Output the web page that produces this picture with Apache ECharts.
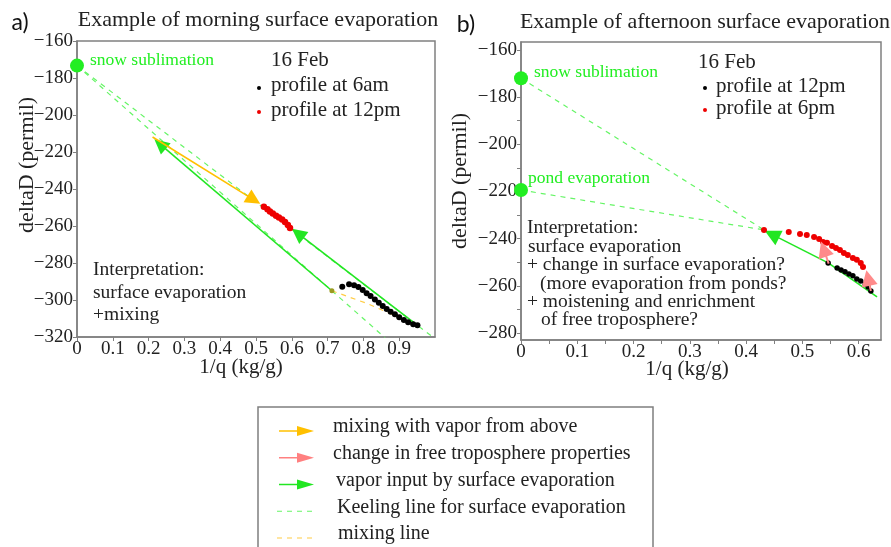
<!DOCTYPE html>
<html>
<head>
<meta charset="utf-8">
<script src="https://cdn.jsdelivr.net/npm/echarts@6/dist/echarts.min.js"></script>
<style>
  html, body { margin: 0; padding: 0; background: #fff; }
  #chart { width: 891px; height: 547px; }
</style>
</head>
<body>
<div id="chart"></div>
<script>
// ---------- Panel (a): morning surface evaporation, 16 Feb ----------
const aProfile6am = [
  [0.741, -292.8], [0.760, -291.5], [0.774, -292.0], [0.786, -293.0], [0.798, -294.6],
  [0.809, -296.4], [0.820, -297.9], [0.832, -299.7], [0.843, -301.5], [0.854, -303.3],
  [0.865, -304.9], [0.876, -306.3], [0.888, -307.7], [0.900, -309.3], [0.913, -310.8],
  [0.925, -312.0], [0.939, -313.1], [0.951, -313.7]
];
const aProfile12pm = [
  [0.522, -249.6], [0.532, -251.0], [0.539, -252.2], [0.547, -253.3], [0.556, -254.4],
  [0.564, -255.4], [0.573, -256.5], [0.581, -257.8], [0.589, -259.5], [0.595, -261.1]
];
const aSources = [{ name: 'snow sublimation', value: [0, -173.3] }];
const aMixStart = [[0.712, -295.0]];
const aKeelingLines = [
  [[0, -173.3], [1.0, -320.9]],
  [[0, -173.3], [0.861, -320.5]]
];
const aMixingLine = [[0.712, -295.0], [0.809, -301.8], [0.951, -313.7]];
const aGreenArrows = [
  [[0.712, -295.0], [0.232, -215.7]],
  [[0.951, -313.7], [0.617, -264.0]]
];
const aYellowArrows = [[[0.211, -211.9], [0.494, -245.9]]];
const aXLabels = [0, 0.1, 0.2, 0.3, 0.4, 0.5, 0.6, 0.7, 0.8, 0.9];
const aYLabels = [-320, -300, -280, -260, -240, -220, -200, -180, -160];

// ---------- Panel (b): afternoon surface evaporation, 16 Feb ----------
const bProfile12pm = [
  [0.546, -250.3], [0.562, -252.5], [0.569, -253.3], [0.576, -254.1], [0.583, -255.0],
  [0.590, -255.8], [0.597, -257.1], [0.604, -258.0], [0.612, -259.2], [0.617, -260.5],
  [0.622, -262.2]
];
const bProfile6pm = [
  [0.432, -236.3], [0.476, -237.2], [0.496, -238.0], [0.508, -238.5], [0.521, -239.3],
  [0.530, -240.2], [0.537, -241.4], [0.544, -241.8], [0.553, -243.1], [0.560, -244.0],
  [0.567, -244.8], [0.574, -246.1], [0.581, -246.9], [0.590, -248.2], [0.597, -249.0],
  [0.604, -250.3], [0.608, -252.0]
];
const bSources = [
  { name: 'snow sublimation', value: [0, -172.0] },
  { name: 'pond evaporation', value: [0, -219.4] }
];
const bKeelingLines = [
  [[0, -172.0], [0.432, -236.3]],
  [[0, -219.4], [0.432, -236.3]]
];
const bGreenPath = [[0.633, -264.7], [0.546, -250.3]];
const bGreenArrows = [[[0.546, -250.3], [0.446, -238.2]]];
const bPinkArrows = [
  [[0.547, -250.6], [0.538, -244.4]],
  [[0.622, -262.2], [0.617, -256.7]]
];
const bXLabels = [0, 0.1, 0.2, 0.3, 0.4, 0.5, 0.6];
const bXTicks = [0, 0.05, 0.1, 0.15, 0.2, 0.25, 0.3, 0.35, 0.4, 0.45, 0.5, 0.55, 0.6];
const bYLabels = [-280, -260, -240, -220, -200, -180, -160];
const bYTicks = [-280, -270, -260, -250, -240, -230, -220, -210, -200, -190, -180, -170, -160];

// ---------- Shared key under both panels ----------
const keyEntries = [
  { text: 'mixing with vapor from above', kind: 'arrow', color: '#ffc000' },
  { text: 'change in free troposphere properties', kind: 'arrow', color: '#ff8080' },
  { text: 'vapor input by surface evaporation', kind: 'arrow', color: '#22e622' },
  { text: 'Keeling line for surface evaporation', kind: 'dash', color: '#66f566' },
  { text: 'mixing line', kind: 'dash', color: '#ffcc44' }
];

// ---------- styling ----------
const SERIF = "'Liberation Serif', 'DejaVu Serif', serif";
const AXIS_GREY = '#808080';
const GREEN = '#22e622';
const LIME_TEXT = '#22ee22';
const KEELING = '#66f566';
const MIXING = '#ffcc44';

const fmtY = v => (v < 0 ? '\u2212' : '') + Math.abs(v);
const fmtX = v => String(+(+v).toFixed(2));

function valueAxis(gridIndex, min, max, labelVals, tickVals, fmt, margin) {
  return {
    type: 'value', gridIndex, min, max,
    axisLine: { show: true, onZero: false, lineStyle: { color: AXIS_GREY, width: 1.5 } },
    axisTick: { show: true, inside: false, length: 4, customValues: tickVals, lineStyle: { color: AXIS_GREY, width: 1 } },
    axisLabel: { customValues: labelVals, formatter: fmt, fontFamily: SERIF, fontSize: 19, color: '#222', margin },
    splitLine: { show: false }
  };
}

function dashedLine(idx, pts, color) {
  return {
    type: 'line', xAxisIndex: idx, yAxisIndex: idx, data: pts, showSymbol: false, symbol: 'none',
    silent: true, z: 1, animation: false,
    lineStyle: { color, width: 1.2, type: [5, 5] }
  };
}

function arrows(idx, list, color, width, size) {
  return {
    type: 'lines', coordinateSystem: 'cartesian2d', xAxisIndex: idx, yAxisIndex: idx,
    symbol: ['none', 'triangle'], symbolSize: size, silent: true, z: 3, animation: false,
    lineStyle: { color, width, opacity: 1, curveness: 0 },
    data: list.map(c => ({ coords: c }))
  };
}

function dots(idx, pts, color, size, z) {
  return {
    type: 'scatter', xAxisIndex: idx, yAxisIndex: idx, data: pts, symbol: 'circle', symbolSize: size,
    silent: true, z: z || 4, animation: false, itemStyle: { color, opacity: 1 }
  };
}

function sources(idx, list, labelShift) {
  return {
    type: 'scatter', xAxisIndex: idx, yAxisIndex: idx, symbolSize: 14, silent: true, z: 5, animation: false,
    itemStyle: { color: LIME_TEXT, opacity: 1 },
    data: list.map((s, i) => ({
      name: s.name, value: s.value,
      label: {
        show: true, formatter: '{b}', position: 'right', distance: labelShift[i][0], offset: [0, labelShift[i][1]],
        fontFamily: SERIF, fontSize: 17.5, color: LIME_TEXT
      }
    }))
  };
}

// ---------- graphic texts ----------
function txt(x, y, text, opts) {
  opts = opts || {};
  return {
    type: 'text', x, y, rotation: opts.rotation || 0, silent: true, z: 10,
    style: {
      text, fill: opts.fill || '#222', font: (opts.size || 20) + 'px ' + (opts.family || SERIF),
      align: opts.align || 'left', verticalAlign: 'middle'
    }
  };
}

const graphics = [
  txt(20, 23, 'a)', { family: "Lato, 'Open Sans', sans-serif", size: 23, align: 'center', fill: '#111' }),
  txt(466, 25, 'b)', { family: "Lato, 'Open Sans', sans-serif", size: 23, align: 'center', fill: '#111' }),
  txt(258, 20, 'Example of morning surface evaporation', { size: 22, align: 'center' }),
  txt(705, 22, 'Example of afternoon surface evaporation', { size: 22, align: 'center' }),
  txt(27, 165, 'deltaD (permil)', { size: 22, align: 'center', rotation: Math.PI / 2 }),
  txt(460, 181, 'deltaD (permil)', { size: 22, align: 'center', rotation: Math.PI / 2 }),
  txt(241, 367, '1/q (kg/g)', { size: 21, align: 'center' }),
  txt(687, 369, '1/q (kg/g)', { size: 21, align: 'center' }),
  // in-panel keys
  txt(271, 60, '16 Feb', { size: 21 }),
  txt(271, 85, 'profile at 6am', { size: 21 }),
  txt(271, 110, 'profile at 12pm', { size: 21 }),
  { type: 'circle', silent: true, z: 10, shape: { cx: 259, cy: 88, r: 2 }, style: { fill: '#000' } },
  { type: 'circle', silent: true, z: 10, shape: { cx: 259, cy: 112, r: 2 }, style: { fill: '#e00' } },
  txt(698, 62, '16 Feb', { size: 21 }),
  txt(716, 86, 'profile at 12pm', { size: 21 }),
  txt(716, 108, 'profile at 6pm', { size: 21 }),
  { type: 'circle', silent: true, z: 10, shape: { cx: 705, cy: 88, r: 2 }, style: { fill: '#000' } },
  { type: 'circle', silent: true, z: 10, shape: { cx: 705, cy: 110, r: 2 }, style: { fill: '#e00' } },
  // interpretations
  txt(93, 270, 'Interpretation:', { size: 19.5 }),
  txt(93, 293, 'surface evaporation', { size: 19.5 }),
  txt(93, 315, '+mixing', { size: 19.5 }),
  txt(527, 228, 'Interpretation:', { size: 19.5 }),
  txt(528, 247, 'surface evaporation', { size: 19.5 }),
  txt(527, 265, '+ change in surface evaporation?', { size: 19.5 }),
  txt(540, 284, '(more evaporation from ponds?', { size: 19.5 }),
  txt(527, 302, '+ moistening and enrichment', { size: 19.5 }),
  txt(541, 320, 'of free troposphere?', { size: 19.5 }),
  // key frame
  { type: 'rect', silent: true, z: 10, shape: { x: 258, y: 407, width: 395, height: 160 },
    style: { fill: 'none', stroke: '#7f7f7f', lineWidth: 1.5 } }
];

keyEntries.forEach((e, i) => {
  const y = 431 + i * 26.75;
  const textX = [333, 333, 336, 337, 338][i];
  if (e.kind === 'arrow') {
    graphics.push({ type: 'line', silent: true, z: 10, shape: { x1: 279, y1: y, x2: 299, y2: y },
      style: { stroke: e.color, lineWidth: 1.5 } });
    graphics.push({ type: 'polygon', silent: true, z: 10, shape: { points: [[297, y - 5], [314, y], [297, y + 5]] },
      style: { fill: e.color } });
  } else {
    graphics.push({ type: 'line', silent: true, z: 10, shape: { x1: 277, y1: y, x2: 316, y2: y },
      style: { stroke: e.color, lineWidth: 1.2, lineDash: [5, 5] } });
  }
  graphics.push(txt(textX, y - 4, e.text, { size: 20 }));
});

const chart = echarts.init(document.getElementById('chart'), null, { renderer: 'canvas' });
chart.setOption({
  animation: false,
  backgroundColor: '#fff',
  grid: [
    { left: 77, top: 41, width: 358, height: 296, show: true, borderColor: AXIS_GREY, borderWidth: 1.5, backgroundColor: 'transparent' },
    { left: 521, top: 42, width: 360, height: 298, show: true, borderColor: AXIS_GREY, borderWidth: 1.5, backgroundColor: 'transparent' }
  ],
  xAxis: [
    valueAxis(0, 0, 1, aXLabels, aXLabels, fmtX, 3),
    valueAxis(1, 0, 0.64, bXLabels, bXTicks, fmtX, 3)
  ],
  yAxis: [
    valueAxis(0, -320, -160, aYLabels, aYLabels, fmtY, 4),
    valueAxis(1, -283, -156.6, bYLabels, bYTicks, fmtY, 4)
  ],
  series: [
    // panel (a)
    ...aKeelingLines.map(l => dashedLine(0, l, KEELING)),
    dashedLine(0, aMixingLine, MIXING),
    arrows(0, aGreenArrows, GREEN, 1.6, 15),
    arrows(0, aYellowArrows, '#ffc000', 1.6, 15),
    dots(0, aMixStart, '#9a9a20', 5),
    dots(0, aProfile6am, '#000', 6),
    dots(0, aProfile12pm, '#ee0000', 6.5),
    sources(0, aSources, [[6, -5]]),
    // panel (b)
    ...bKeelingLines.map(l => dashedLine(1, l, KEELING)),
    { type: 'line', xAxisIndex: 1, yAxisIndex: 1, data: bGreenPath, showSymbol: false, symbol: 'none',
      silent: true, z: 2, lineStyle: { color: GREEN, width: 1.6 } },
    arrows(1, bGreenArrows, GREEN, 1.6, 16),
    dots(1, bProfile12pm, '#000', 5.5),
    dots(1, bProfile6pm, '#ee0000', 6),
    { ...arrows(1, bPinkArrows, '#ff8a8a', 2, 16), z: 6 },
    sources(1, bSources, [[6, -6], [0, -12]])
  ],
  graphic: graphics
});
</script>
</body>
</html>
